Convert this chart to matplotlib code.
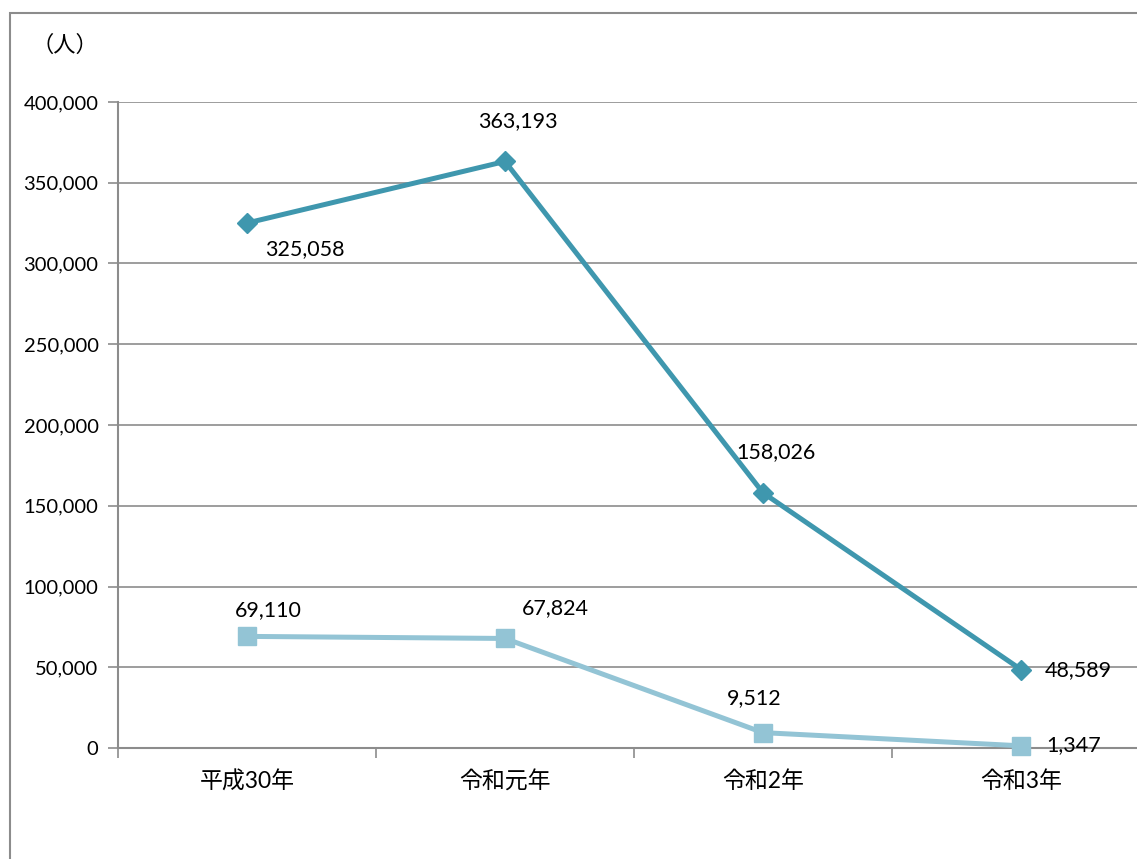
import matplotlib
matplotlib.use("Agg")
import matplotlib.pyplot as plt
from matplotlib.patches import Rectangle
import numpy as np

plt.rcParams['font.family'] = ['Lato', 'Noto Sans CJK JP', 'DejaVu Sans']

years = ["平成30年", "令和元年", "令和2年", "令和3年"]
series_a = [325058, 363193, 158026, 48589]
series_b = [69110, 67824, 9512, 1347]
y_ticks = [0, 50000, 100000, 150000, 200000, 250000, 300000, 350000, 400000]

# label offsets in pixels (dx, dy, ha)
offs_a = [(58, -26, "center"), (13, 40, "center"), (13, 41, "center"), (24, -1, "left")]
offs_b = [(21, 26, "center"), (50, 30, "center"), (-9, 35, "center"), (25, 1, "left")]

C_DARK = "#3f97ae"
C_LIGHT = "#93c4d5"
GRID = "#8c8c8c"

W, H = 1137, 859
fig = plt.figure(figsize=(W / 100, H / 100), dpi=100)
fig.patches.append(Rectangle((10 / W, -0.1), 1.2, 1.1 - 13 / H, transform=fig.transFigure,
                             fill=False, edgecolor="#8c8c8c", lw=1.5))
ax = fig.add_axes([118 / W, 1 - 748 / H, (1150 - 118) / W, (748 - 102) / H])

x = np.arange(len(years))
ax.plot(x, series_a, color=C_DARK, lw=3.6, marker="D", ms=10, zorder=3, clip_on=False)
ax.plot(x, series_b, color=C_LIGHT, lw=3.6, marker="s", ms=12.5, zorder=3, clip_on=False)

for xi, v, (dx, dy, ha) in zip(x, series_a, offs_a):
    ax.annotate(f"{v:,}", (xi, v), xytext=(dx, dy), textcoords="offset pixels",
                ha=ha, va="center", fontsize=15.5, color="black")
for xi, v, (dx, dy, ha) in zip(x, series_b, offs_b):
    ax.annotate(f"{v:,}", (xi, v), xytext=(dx, dy), textcoords="offset pixels",
                ha=ha, va="center", fontsize=15.5, color="black")

ax.set_xlim(-0.5, 3.5)
ax.set_ylim(0, 400000)
ax.set_yticks(y_ticks)
ax.set_yticklabels([f"{t:,}" for t in y_ticks], fontsize=14.5)
ax.yaxis.grid(True, color=GRID, lw=1.2)
ax.set_axisbelow(True)

ax.set_xticks(x)
ax.set_xticklabels(years, fontsize=16.5)
ax.tick_params(axis="x", which="major", length=0, pad=16)
ax.set_xticks(np.arange(-0.5, 3.6, 1), minor=True)
ax.tick_params(axis="x", which="minor", length=7, color=GRID, width=1.2, direction="out")
ax.tick_params(axis="y", length=7, color=GRID, width=1.2, pad=7)

for s in ["top", "right"]:
    ax.spines[s].set_visible(False)
for s in ["left", "bottom"]:
    ax.spines[s].set_color(GRID)
    ax.spines[s].set_linewidth(1.5)

fig.text(65 / W, 1 - 45 / H, "（人）", ha="center", va="center", fontsize=16,
         family=['Noto Sans CJK JP'])

fig.savefig("out.png", dpi=100)
